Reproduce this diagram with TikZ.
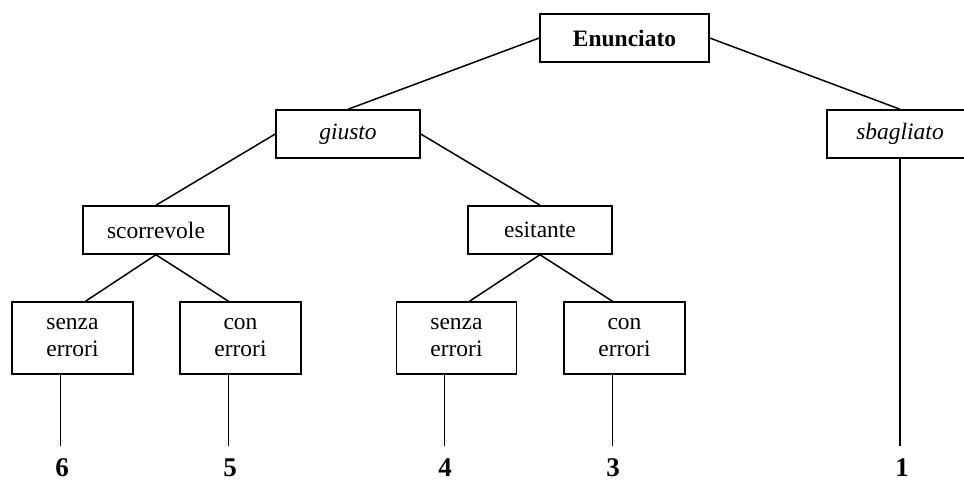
\documentclass[tikz,border=0pt]{standalone}
\usepackage{fontspec}
\setmainfont{Liberation Serif}
\begin{document}
\begin{tikzpicture}[x=1pt,y=-1pt,
  box/.style={draw,line width=1.5pt,inner sep=0pt,align=center,
    font=\fontsize{23.5}{27}\selectfont},
  wide/.style={box,minimum height=48pt},
  leaf/.style={box,minimum width=121pt,minimum height=72pt},
  num/.style={font=\fontsize{27}{27}\selectfont\bfseries,inner sep=0pt,anchor=base},
  link/.style={line width=1.5pt}]
\useasboundingbox (0,0) rectangle (964,484);
\node[wide,minimum width=169pt,font=\fontsize{23.5}{27}\selectfont\bfseries] (en) at (624.5,38) {Enunciato};
\node[wide,minimum width=144pt,font=\fontsize{23.5}{27}\selectfont\itshape] (gi) at (348,134) {giusto};
\node[wide,minimum width=146pt,font=\fontsize{23.5}{27}\selectfont\itshape] (sb) at (900,134) {sbagliato};
\node[wide,minimum width=146pt] (sc) at (156,230) {scorrevole};
\node[wide,minimum width=144pt] (es) at (540,230) {esitante};
\node[leaf] (a1) at (72.5,338) {senza\\errori};
\node[leaf] (a2) at (240.5,338) {con\\errori};
\node[leaf,minimum width=120pt] (a3) at (456.5,338) {senza\\errori};
\node[leaf] (a4) at (624.5,338) {con\\errori};
\node[num] (n6) at (62,476) {6};
\node[num] (n5) at (230,476) {5};
\node[num] (n4) at (445,476) {4};
\node[num] (n3) at (613,476) {3};
\node[num] (n1) at (902,476) {1};
\coordinate (c6) at (60.5,446);
\coordinate (c5) at (228.5,446);
\coordinate (c4) at (444.5,446);
\coordinate (c3) at (612.5,446);
\coordinate (c1) at (900,446);
\draw[link] (en.west) -- (gi.north);
\draw[link] (en.east) -- (sb.north);
\draw[link] (gi.west) -- (sc.north);
\draw[link] (gi.east) -- (es.north);
\draw[link] (sc.south) -- ([xshift=13pt]a1.north);
\draw[link] (sc.south) -- ([xshift=-12pt]a2.north);
\draw[link] (es.south) -- ([xshift=13pt]a3.north);
\draw[link] (es.south) -- ([xshift=-12pt]a4.north);
\draw[link] ([xshift=-12pt]a1.south) -- (c6);
\draw[link] ([xshift=-12pt]a2.south) -- (c5);
\draw[link] ([xshift=-12pt]a3.south) -- (c4);
\draw[link] ([xshift=-12pt]a4.south) -- (c3);
\draw[link] (sb.south) -- (c1);
\end{tikzpicture}
\end{document}
